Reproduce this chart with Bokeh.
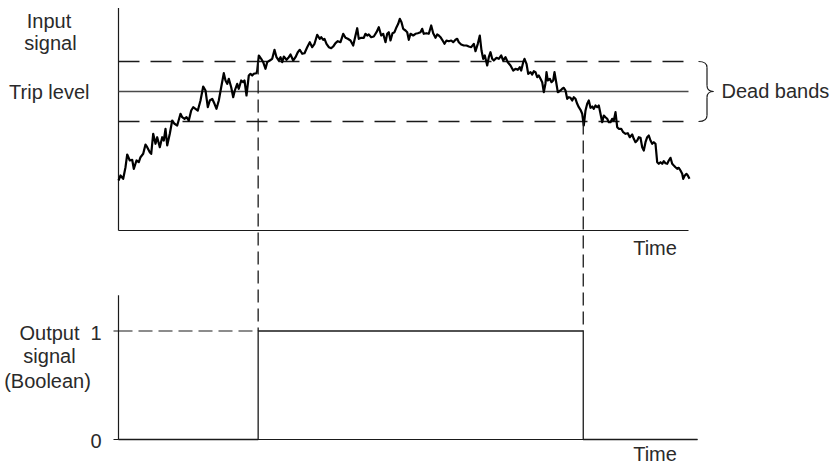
from bokeh.plotting import figure
from bokeh.models import Range1d
from bokeh.core.properties import value
from bokeh.embed import file_html
from bokeh.resources import INLINE

# ---------------- data ----------------
# time (arbitrary units) and input signal level (arbitrary units)
signal_time = [
    0, 2, 4.7, 7, 8.7, 11.3, 13.7, 15.3, 18, 20.3,
    22, 24.7, 27, 28.7, 31.3, 32.7, 34.7, 37, 38.7, 41.3,
    43.7, 45.3, 47, 48.7, 51.3, 53.7, 56, 58.7, 62, 63.7,
    66, 68, 70.3, 72.7, 74.7, 77, 79.3, 82, 84.7, 87,
    89.3, 91.3, 93.7, 96, 98, 100.3, 102.7, 105.3, 107, 108.7,
    110.3, 112.7, 114.7, 116.3, 118.7, 120.3, 122.7, 124.7, 126, 128,
    130.3, 132, 133.7, 135.3, 138, 138.7, 140.3, 142.7, 144.7, 147,
    148.7, 151.3, 153.7, 156, 158, 160.3, 162, 163.7, 165.3, 168,
    170.3, 172, 174.7, 177, 179.3, 181.3, 183.7, 186, 188.7, 191.3,
    193.7, 196, 198.7, 201.3, 202.7, 204.7, 206, 208, 210.3, 212.7,
    214.7, 217, 219.3, 222, 224.7, 227, 229.3, 232, 234.7, 237,
    238.7, 240.3, 242.7, 245.3, 247, 248.7, 250.3, 252.7, 255.3, 258,
    260.3, 262.7, 264.7, 267, 268.7, 270.3, 272, 274, 276, 278,
    279.7, 281.3, 283, 284.7, 287, 288.7, 290.3, 292, 294.7, 297,
    299.3, 302, 303.7, 305.3, 308, 310.3, 312.7, 314.7, 317, 318.7,
    320.3, 322, 323.7, 326, 328, 330.3, 332.7, 334.7, 337, 338.7,
    340.3, 342.7, 345.3, 348, 350.3, 352.7, 355.3, 357, 359.3, 361.3,
    363, 364.7, 366.3, 368.7, 370.3, 372, 373.7, 375.3, 378, 380.3,
    382.7, 384.7, 387, 389.3, 392, 394.7, 397, 399.3, 401.3, 402.7,
    404.7, 406, 408, 409.7, 412, 413.7, 415.3, 417, 418.7, 420.3,
    422, 423.7, 425.3, 427, 428, 429.3, 431.3, 433, 434.7, 436,
    437.7, 439.3, 442, 443.7, 445.3, 447, 448.7, 450.3, 452, 453.7,
    455.3, 457, 458.7, 460.3, 462, 463.7, 465.3, 467, 468.7, 470.3,
    472, 473.7, 475.3, 477, 478.7, 480.3, 482, 483.7, 485.3, 487,
    488.7, 490.3, 492, 493.7, 495.3, 497, 498.7, 500.3, 502.7, 504.7,
    507, 509.3, 511.3, 513.7, 515.3, 517, 518.7, 520.3, 522, 523.7,
    525.3, 527, 528.7, 530.3, 532, 533.7, 535.3, 537, 538.7, 540.3,
    542, 543.7, 545.3, 547, 548.7, 550.3, 552, 553.7, 555.3, 557,
    558.7, 560.3, 562, 563.7, 564.7, 566.3, 568, 569.3, 571,
]
signal_level = [
    50, 55, 51.7, 63.3, 76, 70, 70.7, 61.7, 70, 68.3,
    73.3, 76.7, 86, 83.3, 78.3, 76.7, 96.7, 86.7, 93.3, 83.3,
    93.3, 90, 101.7, 85, 96.7, 110, 106.7, 105, 116.7, 113.3,
    111.7, 113.3, 110, 120, 123.3, 121.7, 120, 130, 144, 140,
    123.3, 130, 131.7, 126.7, 121.7, 130, 143.3, 157.3, 150, 146.7,
    151.7, 143.3, 133.3, 140, 146.7, 141.7, 150, 148.3, 150, 135,
    155, 156.7, 155, 156.7, 157.3, 160, 175, 171.7, 168.3, 161.7,
    168.3, 170, 171.7, 180.7, 173.3, 170, 173.3, 168.3, 174, 170.7,
    173.3, 176, 170, 173.3, 178.3, 180.7, 176.7, 177.3, 183.3, 188.3,
    183.3, 186.7, 195.7, 191.7, 193.3, 190.7, 191.7, 186.7, 183.3, 182.3,
    184, 187.3, 189.3, 188.3, 196.7, 192.7, 191.7, 190, 185, 195,
    202.3, 191.7, 192.7, 192.7, 196.7, 195, 196, 193.3, 194, 198.3,
    203.3, 195, 196.7, 188.3, 196.7, 198.3, 190, 197.3, 198.3, 203.3,
    206.7, 211.7, 208.3, 201.7, 200, 198.3, 190.7, 196.7, 195, 196.7,
    197.3, 198.3, 201.7, 196.7, 197.3, 196.7, 205, 197.3, 192.7, 196,
    195, 193.3, 190.7, 186.7, 190, 189.3, 190, 188.3, 190.7, 191.7,
    188.3, 186, 185, 185, 184, 183.3, 186.7, 179.3, 186.7, 195,
    180, 171.7, 175, 165, 173.3, 178.3, 171.7, 170, 172.7, 171.7,
    175, 170, 173.3, 168.3, 165, 160, 161.7, 160.7, 163.3, 160,
    168.3, 171.7, 166.7, 156.7, 158.3, 156, 159.3, 158.3, 153.3, 155,
    151.7, 148.3, 138.3, 147.3, 158.3, 150, 151.7, 148.3, 150, 158.3,
    148.3, 138.3, 140, 141.7, 142.7, 140, 131.7, 133.3, 132.7, 130,
    133.3, 131.7, 126.7, 123.3, 120.7, 116.7, 105, 120, 126.7, 130,
    122.7, 124, 121.7, 125, 123.3, 125, 116.7, 108.3, 115, 113.3,
    111.7, 108.3, 108.3, 111.7, 110, 118.3, 103.3, 101.7, 101.7, 98.3,
    96.7, 97.3, 93.3, 96, 91.7, 88.3, 90, 93.3, 92.7, 83.3,
    80, 88.3, 93.3, 95, 90, 86.7, 88.3, 86.7, 68.3, 66.7,
    68.3, 66.7, 69.3, 67.3, 66.7, 70, 72.7, 66.7, 65, 63.3,
    61.7, 62.7, 60, 56.7, 51.7, 55, 56.7, 55, 51.7,
]

trip_level = 139
dead_band = 30
time_axis_end = 570
bool_time_end = 579
bool_ticks = [0, 1]
bool_tick_labels = ["0", "1"]
input_label = ["Input", "signal"]
output_label = ["Output", "signal", "(Boolean)"]
trip_label = "Trip level"
band_label = "Dead bands"
time_label = "Time"

upper = trip_level + dead_band
lower = trip_level - dead_band

# ---------------- Boolean output derived from the signal (hysteresis) ----------------
def cross(i, level):
    t0, t1 = signal_time[i - 1], signal_time[i]
    v0, v1 = signal_level[i - 1], signal_level[i]
    return t0 + (level - v0) * (t1 - t0) / (v1 - v0)

state, t_on, t_off = 0, None, None
for i in range(1, len(signal_time)):
    if state == 0 and signal_level[i] >= upper:
        t_on, state = cross(i, upper), 1
    elif state == 1 and signal_level[i] <= lower:
        t_off, state = cross(i, lower), 0
        break

# ---------------- figure / layout ----------------
FONT = value("Liberation Sans")
FS = "20px"
TXT = "#2a2a2a"
INK = "#1a1a1a"

p = figure(width=834, height=465, x_range=Range1d(-118, 716), y_range=Range1d(-235, 230),
           output_backend="svg", toolbar_location=None, x_axis_type=None, y_axis_type=None,
           min_border=0, min_border_left=0, min_border_right=0, min_border_top=0,
           min_border_bottom=0, outline_line_color=None,
           background_fill_color="white", border_fill_color="white")
p.grid.visible = False

# lower panel uses its own range: Boolean 0 / 1 placed below the signal panel
bool_zero_at, bool_scale = -209.0, 108.5
def sig_to_bool(v):
    return (v - bool_zero_at) / bool_scale
p.extra_y_ranges = {"bool": Range1d(sig_to_bool(-235), sig_to_bool(230))}

# ---- upper panel ----
p.line([0, 0], [0, 222.5], line_color=INK, line_width=1.2)
p.line([0, time_axis_end], [0, 0], line_color=INK, line_width=1.2)
p.line([0, time_axis_end], [trip_level, trip_level], line_color="#4a4a4a", line_width=1.6)
p.multi_line([[0, 565], [0, 565]], [[upper, upper], [lower, lower]],
             line_color=INK, line_width=1.3, line_dash="21 11")
p.line(signal_time, signal_level, line_color="black", line_width=2.2, line_join="round")

# connectors from the dead-band crossings down to the Boolean output
p.segment(x0=[t_on, t_off], y0=[sig_to_bool(upper), sig_to_bool(lower)],
          x1=[t_on, t_off], y1=[1, 1], y_range_name="bool",
          line_color=INK, line_width=1.3, line_dash="13 6")

# brace for the dead bands
bx0, bx1, bx2, r = 580, 588.5, 595, 6
p.quadratic(x0=[bx0, bx1, bx2, bx1], y0=[upper, trip_level + r, trip_level, lower + r],
            x1=[bx1, bx2, bx1, bx0], y1=[upper - r, trip_level, trip_level - r, lower],
            cx=[bx1, bx1, bx1, bx1], cy=[upper, trip_level, trip_level, lower],
            line_color=INK, line_width=1.2)
p.segment(x0=[bx1, bx1], y0=[upper - r, trip_level - r], x1=[bx1, bx1], y1=[trip_level + r, lower + r],
          line_color=INK, line_width=1.2)

# ---- lower panel ----
p.line([0, 0], [0, 1.33], y_range_name="bool", line_color=INK, line_width=1.2)
p.line([0, bool_time_end], [0, 0], y_range_name="bool", line_color=INK, line_width=1.2)
p.segment(x0=[-5] * len(bool_ticks), x1=[0] * len(bool_ticks), y0=bool_ticks, y1=bool_ticks,
          y_range_name="bool", line_color=INK, line_width=1.2)
p.line([0, t_on], [1, 1], y_range_name="bool", line_color=INK, line_width=1.2, line_dash="14 6")
p.step(x=[0, t_on, t_off, bool_time_end], y=[0, 1, 0, 0], mode="after", y_range_name="bool",
       line_color=INK, line_width=1.3)

# ---- texts ----
common = dict(text_font=FONT, text_font_size=FS, text_color=TXT, text_baseline="alphabetic")
p.text(x=[-69.5, -68], y=[210, 188], text=input_label, text_align="center", **common)
p.text(x=[-29], y=[trip_level], text=[trip_label], text_align="right", **common)
p.text(x=[603], y=[trip_level + 1], text=[band_label], text_align="left", **common)
p.text(x=[514.7], y=[-17], text=[time_label], text_align="left", **common)

p.text(x=[-69, -69, -71], y=[0.985, 0.765, 0.535], text=output_label, text_align="center",
       y_range_name="bool", **common)
p.text(x=[-17] * len(bool_ticks), y=[b - 1.5 / bool_scale for b in bool_ticks], text=bool_tick_labels,
       text_align="right", y_range_name="bool", **common)
p.text(x=[514.7], y=[-14.5 / bool_scale], text=[time_label], text_align="left",
       y_range_name="bool", **common)

open("out.html", "w").write(file_html(p, INLINE))
